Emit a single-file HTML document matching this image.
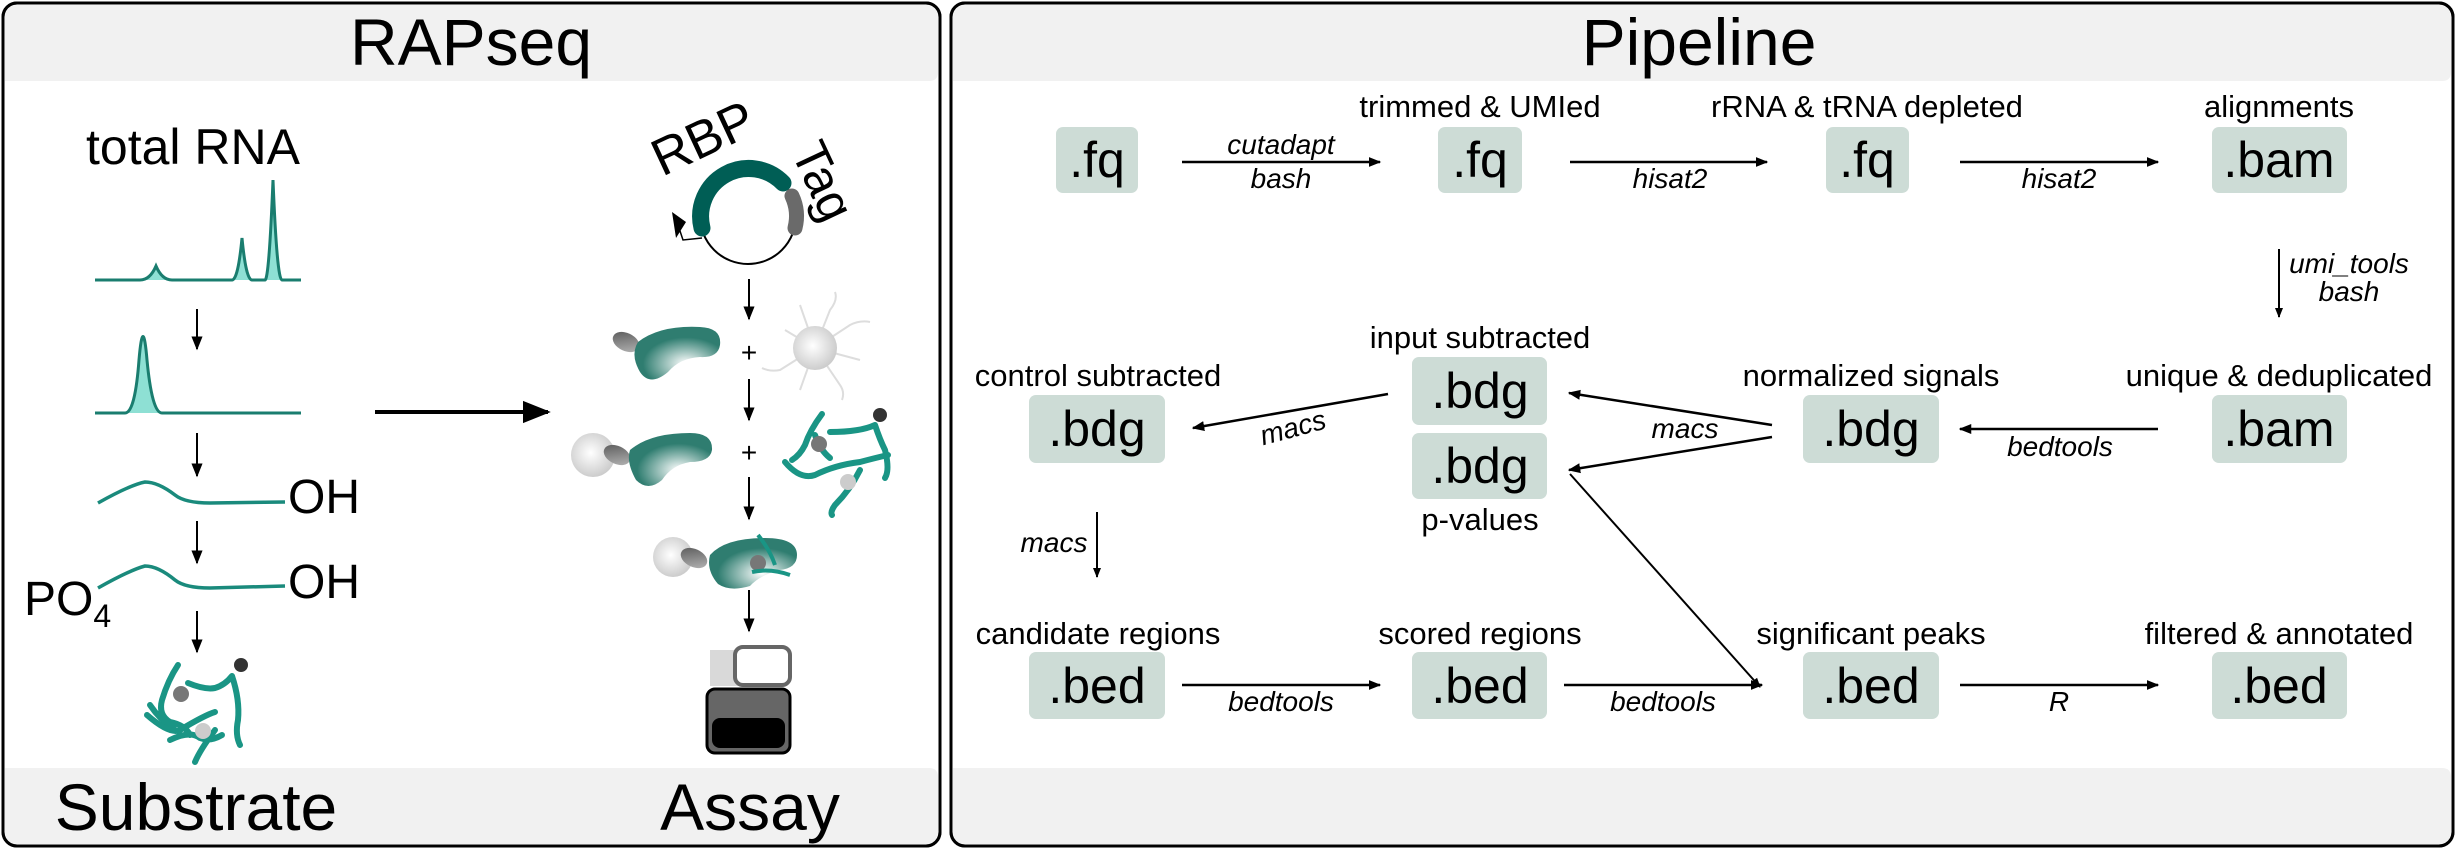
<!DOCTYPE html>
<html><head><meta charset="utf-8"><style>
html,body{margin:0;padding:0;background:#fff}
svg{display:block}
text{font-family:"Liberation Sans",Arial,sans-serif;fill:#000}
.lb{font-family:"Liberation Sans Narrow","Liberation Sans",sans-serif;font-size:31px;text-anchor:middle}
.bx{font-size:50px;text-anchor:middle}
.it{font-family:"Liberation Sans Narrow","Liberation Sans",sans-serif;font-size:28px;font-style:italic;text-anchor:middle}
</style></head><body>
<svg width="2456" height="849" viewBox="0 0 2456 849" xmlns="http://www.w3.org/2000/svg">
<defs>
<marker id="ah" viewBox="0 0 10 10" refX="9" refY="5" markerWidth="5" markerHeight="5" orient="auto-start-reverse"><path d="M0,1 L10,5 L0,9 z" fill="#000"/></marker>
<marker id="ahs" viewBox="0 0 10 10" refX="9" refY="5" markerWidth="7" markerHeight="7" orient="auto"><path d="M0,1 L10,5 L0,9 z" fill="#000"/></marker>
<radialGradient id="prot" cx="0.6" cy="0.7" r="0.5"><stop offset="0" stop-color="#fff"/><stop offset="1" stop-color="#2f7d70"/></radialGradient>
<radialGradient id="bead" cx="0.45" cy="0.45" r="0.6"><stop offset="0" stop-color="#fff"/><stop offset="1" stop-color="#c8c8c8"/></radialGradient>
<linearGradient id="tag" x1="0" y1="0" x2="1" y2="1"><stop offset="0" stop-color="#555"/><stop offset="1" stop-color="#bbb"/></linearGradient>
</defs>

<!-- Left panel -->
<rect x="3" y="3" width="937" height="843" rx="14" fill="#fff" stroke="#000" stroke-width="3"/>
<path d="M5,81 L5,18 Q5,5 18,5 L925,5 Q938,5 938,18 L938,72 Q938,81 929,81 Z" fill="#f1f1f1"/>
<path d="M5,768 L929,768 Q938,768 938,777 L938,831 Q938,844 925,844 L18,844 Q5,844 5,831 Z" fill="#f1f1f1"/>
<rect x="3" y="3" width="937" height="843" rx="14" fill="none" stroke="#000" stroke-width="3"/>
<text x="471" y="65" style="font-size:66px" text-anchor="middle">RAPseq</text>
<text x="196" y="830" style="font-size:66px" text-anchor="middle">Substrate</text>
<text x="750" y="830" style="font-size:66px" text-anchor="middle">Assay</text>

<text x="193" y="164" style="font-size:50px" text-anchor="middle">total RNA</text>
<path d="M95,280 L140,280 Q150,280 156,266 Q162,280 172,280 L232,280 Q238,280 242,238 Q246,280 252,280 L265,280 Q269,280 273,180 Q277,280 282,280 L301,280" fill="#8ee0d4" stroke="#1a7d6f" stroke-width="3"/>
<line x1="197" y1="309" x2="197" y2="349" stroke="#000" stroke-width="2" marker-end="url(#ahs)"/>
<path d="M95,413 L125,413 Q135,413 139,360 Q143,313 147,360 Q152,413 162,413 L301,413" fill="#8ee0d4" stroke="#1a7d6f" stroke-width="3"/>
<line x1="197" y1="433" x2="197" y2="476" stroke="#000" stroke-width="2" marker-end="url(#ahs)"/>
<path d="M98,503 Q130,485 145,482 Q158,482 175,495 Q185,503 210,503 L285,502" fill="none" stroke="#1a8a7c" stroke-width="3.5"/>
<text x="324" y="513" style="font-size:48px" text-anchor="middle">OH</text>
<line x1="197" y1="521" x2="197" y2="563" stroke="#000" stroke-width="2" marker-end="url(#ahs)"/>
<path d="M98,588 Q130,570 145,566 Q158,566 175,580 Q185,588 210,588 L285,586" fill="none" stroke="#1a8a7c" stroke-width="3.5"/>
<text x="324" y="598" style="font-size:48px" text-anchor="middle">OH</text>
<text x="24" y="615" style="font-size:48px">PO<tspan style="font-size:32px" dy="12">4</tspan></text>
<line x1="197" y1="611" x2="197" y2="652" stroke="#000" stroke-width="2" marker-end="url(#ahs)"/>
<g fill="none" stroke="#1a9585" stroke-width="6" stroke-linecap="round">
<path d="M178,665 Q168,680 162,700 Q158,715 170,722 Q185,725 190,735 M150,705 Q160,720 175,730"/>
<path d="M188,683 Q205,690 215,688 Q225,685 232,676 M232,676 Q240,700 238,720 Q235,735 240,745"/>
<path d="M147,715 Q170,735 180,730 Q205,715 215,712 M170,740 Q190,730 200,738 Q210,742 222,735"/>
<path d="M215,730 Q200,750 195,762"/>
</g>
<circle cx="241" cy="665" r="7" fill="#333"/>
<circle cx="181" cy="694" r="8" fill="#777"/>
<circle cx="203" cy="731" r="8" fill="#ccc"/>

<line x1="375" y1="412" x2="548" y2="412" stroke="#000" stroke-width="4" marker-end="url(#ahs)"/>

<!-- plasmid -->
<circle cx="748" cy="216" r="48" fill="none" stroke="#000" stroke-width="2"/>
<path d="M702,228 A48,48 0 0 1 783,183" fill="none" stroke="#005e55" stroke-width="17" stroke-linecap="round"/>
<path d="M792,196 A48,48 0 0 1 795,228" fill="none" stroke="#6a6a6a" stroke-width="15" stroke-linecap="round"/>
<path d="M702,238 L683,240 L677,222" fill="none" stroke="#000" stroke-width="1.5"/>
<path d="M672,212 L686,222 L676,238 z" fill="#000"/>
<text x="703" y="156" style="font-size:52px" text-anchor="middle" transform="rotate(-25 703 138)">RBP</text>
<text x="823" y="198" style="font-size:50px" text-anchor="middle" transform="rotate(65 823 181)">Tag</text>

<g stroke="#000" stroke-width="2">
<line x1="749" y1="279" x2="749" y2="319" marker-end="url(#ahs)"/>
<line x1="749" y1="379" x2="749" y2="420" marker-end="url(#ahs)"/>
<line x1="749" y1="477" x2="749" y2="519" marker-end="url(#ahs)"/>
<line x1="749" y1="590" x2="749" y2="631" marker-end="url(#ahs)"/>
</g>
<text x="749" y="362" style="font-size:28px" text-anchor="middle">+</text>
<text x="749" y="462" style="font-size:28px" text-anchor="middle">+</text>

<ellipse cx="626" cy="342" rx="14" ry="9" fill="url(#tag)" transform="rotate(25 626 342)"/>
<path d="M638,342 Q660,325 700,327 Q722,328 720,345 Q718,358 700,357 Q680,358 668,372 Q650,387 640,372 Q630,355 638,342 Z" fill="url(#prot)"/>
<g stroke="#ddd" stroke-width="2" fill="none">
<path d="M815,348 L830,310 Q838,300 835,292 M815,348 L850,325 Q860,320 870,322 M815,348 L860,360 M815,348 L840,385 Q845,392 842,400 M815,348 L800,390 M815,348 L780,370 Q770,372 762,368 M815,348 L785,330 M815,348 L800,305"/>
</g>
<circle cx="815" cy="348" r="22" fill="url(#bead)"/>
<circle cx="593" cy="455" r="22" fill="url(#bead)"/>
<ellipse cx="617" cy="455" rx="14" ry="9" fill="url(#tag)" transform="rotate(25 617 455)"/>
<path d="M630,450 Q650,433 690,433 Q713,433 712,450 Q710,462 690,462 Q672,465 662,480 Q648,492 636,480 Q626,462 630,450 Z" fill="url(#prot)"/>
<g fill="none" stroke="#1a9585" stroke-width="6" stroke-linecap="round">
<path d="M822,414 Q810,430 805,445 Q800,455 792,460 M815,435 Q820,450 830,458"/>
<path d="M830,432 Q860,432 875,425 M875,425 Q880,440 885,450 Q890,470 885,478"/>
<path d="M785,462 Q800,480 815,475 Q835,465 860,462 Q875,458 888,455"/>
<path d="M860,470 Q850,490 835,505 Q830,512 832,515"/>
</g>
<circle cx="880" cy="415" r="7" fill="#333"/>
<circle cx="819" cy="444" r="8" fill="#777"/>
<circle cx="848" cy="482" r="8" fill="#ccc"/>
<circle cx="673" cy="557" r="20" fill="url(#bead)"/>
<ellipse cx="694" cy="558" rx="14" ry="9" fill="url(#tag)" transform="rotate(25 694 558)"/>
<path d="M710,555 Q725,538 765,538 Q797,538 797,555 Q797,568 780,570 Q760,575 750,586 Q730,592 718,584 Q706,570 710,555 Z" fill="url(#prot)"/>
<circle cx="758" cy="563" r="8" fill="#777"/>
<path d="M758,535 Q770,550 775,565 M752,572 Q770,568 790,575" fill="none" stroke="#1a9585" stroke-width="4"/>
<rect x="710" y="650" width="30" height="36" fill="#d9d9d9"/>
<rect x="735" y="647" width="55" height="38" rx="8" fill="#fff" stroke="#666" stroke-width="4"/>
<rect x="707" y="689" width="83" height="64" rx="8" fill="#666" stroke="#000" stroke-width="3"/>
<rect x="712" y="718" width="73" height="30" rx="8" fill="#000"/>

<!-- Right panel -->
<rect x="951" y="3" width="1502" height="843" rx="14" fill="#fff" stroke="#000" stroke-width="3"/>
<path d="M953,81 L953,18 Q953,5 966,5 L2438,5 Q2451,5 2451,18 L2451,72 Q2451,81 2442,81 Z" fill="#f1f1f1"/>
<path d="M953,768 L2442,768 Q2451,768 2451,777 L2451,831 Q2451,844 2438,844 L966,844 Q953,844 953,831 Z" fill="#f1f1f1"/>
<rect x="951" y="3" width="1502" height="843" rx="14" fill="none" stroke="#000" stroke-width="3"/>
<text x="1699" y="65" style="font-size:66px" text-anchor="middle">Pipeline</text>

<g fill="#cddcd6">
<rect x="1056" y="127" width="82" height="66" rx="7"/>
<rect x="1438" y="127" width="84" height="66" rx="7"/>
<rect x="1826" y="127" width="83" height="66" rx="7"/>
<rect x="2212" y="127" width="135" height="66" rx="7"/>
<rect x="1029" y="395" width="136" height="68" rx="7"/>
<rect x="1412" y="357" width="135" height="68" rx="7"/>
<rect x="1412" y="433" width="135" height="66" rx="7"/>
<rect x="1803" y="395" width="136" height="68" rx="7"/>
<rect x="2212" y="395" width="135" height="68" rx="7"/>
<rect x="1029" y="652" width="136" height="67" rx="7"/>
<rect x="1412" y="652" width="135" height="67" rx="7"/>
<rect x="1803" y="652" width="136" height="67" rx="7"/>
<rect x="2212" y="652" width="135" height="67" rx="7"/>
</g>
<text class="bx" x="1097" y="177">.fq</text>
<text class="bx" x="1480" y="177">.fq</text>
<text class="bx" x="1867" y="177">.fq</text>
<text class="bx" x="2279" y="177">.bam</text>
<text class="bx" x="1097" y="446">.bdg</text>
<text class="bx" x="1480" y="408">.bdg</text>
<text class="bx" x="1480" y="483">.bdg</text>
<text class="bx" x="1871" y="446">.bdg</text>
<text class="bx" x="2279" y="446">.bam</text>
<text class="bx" x="1097" y="703">.bed</text>
<text class="bx" x="1480" y="703">.bed</text>
<text class="bx" x="1871" y="703">.bed</text>
<text class="bx" x="2279" y="703">.bed</text>

<text class="lb" x="1480" y="117">trimmed &amp; UMIed</text>
<text class="lb" x="1867" y="117">rRNA &amp; tRNA depleted</text>
<text class="lb" x="2279" y="117">alignments</text>
<text class="lb" x="1098" y="386">control subtracted</text>
<text class="lb" x="1480" y="348">input subtracted</text>
<text class="lb" x="1480" y="530">p-values</text>
<text class="lb" x="1871" y="386">normalized signals</text>
<text class="lb" x="2279" y="386">unique &amp; deduplicated</text>
<text class="lb" x="1098" y="644">candidate regions</text>
<text class="lb" x="1480" y="644">scored regions</text>
<text class="lb" x="1871" y="644">significant peaks</text>
<text class="lb" x="2279" y="644">filtered &amp; annotated</text>

<g stroke="#000" stroke-width="2.5" fill="none">
<line x1="1182" y1="162" x2="1380" y2="162" marker-end="url(#ah)"/>
<line x1="1570" y1="162" x2="1767" y2="162" marker-end="url(#ah)"/>
<line x1="1960" y1="162" x2="2158" y2="162" marker-end="url(#ah)"/>
<line x1="2279" y1="249" x2="2279" y2="317" stroke-width="2" marker-end="url(#ah)"/>
<line x1="2158" y1="429" x2="1960" y2="429" marker-end="url(#ah)"/>
<line x1="1772" y1="425" x2="1569" y2="393" marker-end="url(#ah)"/>
<line x1="1772" y1="437" x2="1569" y2="470" marker-end="url(#ah)"/>
<line x1="1388" y1="394" x2="1193" y2="428" marker-end="url(#ah)"/>
<line x1="1097" y1="512" x2="1097" y2="577" stroke-width="2" marker-end="url(#ah)"/>
<line x1="1182" y1="685" x2="1380" y2="685" marker-end="url(#ah)"/>
<line x1="1564" y1="685" x2="1762" y2="685" marker-end="url(#ah)"/>
<line x1="1960" y1="685" x2="2158" y2="685" marker-end="url(#ah)"/>
<line x1="1570" y1="474" x2="1760" y2="687" stroke-width="2" marker-end="url(#ah)"/>
</g>
<text class="it" x="1281" y="154">cutadapt</text>
<text class="it" x="1281" y="188">bash</text>
<text class="it" x="1670" y="188">hisat2</text>
<text class="it" x="2059" y="188">hisat2</text>
<text class="it" x="2349" y="273">umi_tools</text>
<text class="it" x="2349" y="301">bash</text>
<text class="it" x="2060" y="456">bedtools</text>
<text class="it" x="1685" y="438">macs</text>
<text class="it" x="1293" y="437" transform="rotate(-15 1293 428)">macs</text>
<text class="it" x="1054" y="552">macs</text>
<text class="it" x="1281" y="711">bedtools</text>
<text class="it" x="1663" y="711">bedtools</text>
<text class="it" x="2059" y="711">R</text>
</svg>
</body></html>
